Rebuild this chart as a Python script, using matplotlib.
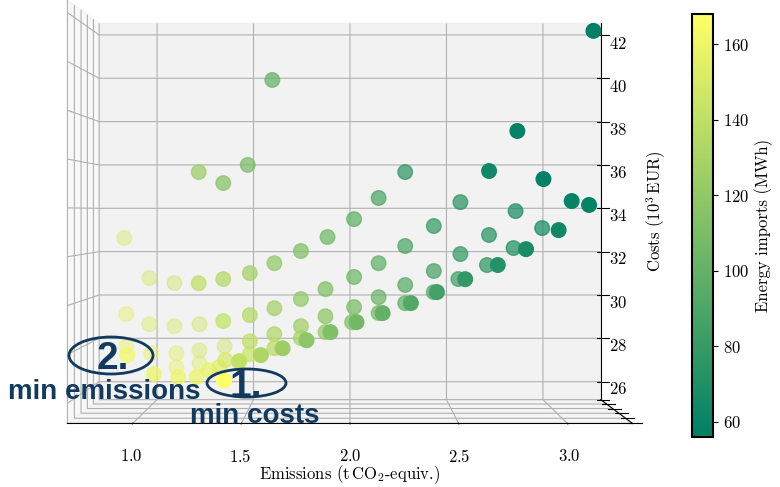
import matplotlib.pyplot as plt
import numpy as np
from matplotlib.cm import ScalarMappable
from matplotlib.colors import Normalize
from matplotlib.patches import Ellipse

plt.rcParams['font.family'] = 'serif'
plt.rcParams['font.serif'] = ['cmr10']
plt.rcParams['mathtext.fontset'] = 'cm'
plt.rcParams['axes.formatter.use_mathtext'] = True
plt.rcParams['font.size'] = 12

# Pareto solutions: emissions (t CO2-eq), costs (1e3 EUR), energy imports (MWh)
# and the position of each solution along the (unlabelled) depth axis
emissions = [3.12, 2.77, 2.64, 2.89, 3.02, 3.10, 2.96, 2.81, 2.68, 2.53,
             2.40, 2.28, 2.15, 2.03, 1.91, 1.80, 1.69, 1.59, 1.49, 1.42,
             2.27, 2.14, 2.54, 2.81, 2.02, 2.41, 2.68, 2.94, 1.89, 2.27,
             2.54, 2.80, 1.76, 2.14, 2.41, 2.67, 1.63, 2.02, 2.27, 2.53,
             1.51, 1.88, 2.14, 2.41, 1.38, 1.76, 2.02, 2.27, 1.26, 1.63,
             1.88, 2.14, 1.51, 1.76, 2.01, 1.38, 1.63, 1.88, 1.51, 1.76,
             1.63, 1.51, 1.39, 1.36, 1.31, 0.91, 1.04, 1.16, 1.25, 1.62,
             1.50, 1.26, 1.38,
             1.09, 0.96, 1.22, 1.09, 1.35, 0.96, 1.22, 0.84, 1.10, 0.97,
             1.22, 0.84, 1.10, 0.83]
costs = [41.25, 37.15, 35.51, 35.18, 34.28, 34.12, 33.09, 32.31, 31.66, 31.08,
         30.55, 30.10, 29.69, 29.32, 28.91, 28.58, 28.25, 27.97, 27.72, 26.94,
         35.57, 34.44, 34.26, 33.87, 33.52, 33.22, 32.83, 33.13, 32.74, 32.35,
         32.00, 32.26, 32.13, 31.60, 31.26, 31.52, 31.60, 31.00, 30.65, 30.91,
         31.17, 30.47, 30.12, 30.34, 30.91, 30.04, 29.69, 29.86, 30.73, 29.64,
         29.29, 29.43, 29.34, 28.86, 29.03, 29.08, 28.51, 28.60, 28.20, 28.34,
         27.90, 27.64, 27.38, 27.07, 26.94, 27.59, 26.77, 26.64, 26.64, 39.58,
         35.88, 35.57, 35.09,
         30.55, 30.78, 28.65, 28.56, 27.64, 28.65, 27.45, 29.12, 27.31, 27.31,
         26.85, 27.64, 26.67, 32.63]
imports = [56, 58, 64, 58, 59, 59, 63, 67, 72, 78,
           85, 92, 100, 106, 112, 118, 125, 132, 140, 168,
           76, 90, 75, 68, 98, 80, 74, 66, 105, 90,
           80, 71, 112, 98, 88, 77, 120, 105, 95, 84,
           128, 112, 103, 93, 135, 120, 110, 99, 140, 128,
           118, 107, 135, 126, 114, 142, 133, 122, 140, 130,
           138, 145, 150, 155, 158, 162, 160, 160, 160, 100,
           110, 125, 115,
           145, 148, 146, 150, 146, 152, 150, 155, 154, 156,
           154, 158, 157, 150]
depth = [0.0, 0.0, 0.0, 0.0, 0.0, 0.0, 0.0, 0.0, 0.0, 0.0,
         0.0, 0.0, 0.0, 0.0, 0.0, 0.0, 0.0, 0.0, 0.0, 0.0,
         0.5, 0.5, 0.5, 0.5, 0.5, 0.5, 0.5, 0.5, 0.5, 0.5,
         0.5, 0.5, 0.5, 0.5, 0.5, 0.5, 0.5, 0.5, 0.5, 0.5,
         0.5, 0.5, 0.5, 0.5, 0.5, 0.5, 0.5, 0.5, 0.5, 0.5,
         0.5, 0.5, 0.5, 0.5, 0.5, 0.5, 0.5, 0.5, 0.5, 0.5,
         0.5, 0.5, 0.5, 0.5, 0.5, 0.5, 0.5, 0.5, 0.5, 0.5,
         0.5, 0.5, 0.5,
         1.0, 1.0, 1.0, 1.0, 1.0, 1.0, 1.0, 1.0, 1.0, 1.0,
         1.0, 1.0, 1.0, 1.0]

x_ticks = [1.0, 1.5, 2.0, 2.5, 3.0]
z_ticks = [26, 28, 30, 32, 34, 36, 38, 40, 42]
cbar_ticks = [60, 80, 100, 120, 140, 160]

navy = '#123a5e'
cmap = plt.get_cmap('summer')

fig = plt.figure(figsize=(7.8, 4.87), dpi=100)
ax = fig.add_axes([-0.0951, -0.3053, 1.059, 1.696], projection='3d')
ax.view_init(elev=0, azim=-89.999)

# colour by imports, fade the markers that sit further back
norm = Normalize(min(imports), max(imports))
rgba = cmap(norm(np.array(imports)))
rgba[:, 3] = 1 - 0.55 * np.array(depth)
ax.scatter(emissions, depth, costs, c=rgba, s=110, depthshade=False)

ax.set_xlim(0.70, 3.30)
ax.set_ylim(0, 1)
ax.set_zlim(25.17, 42.53)
ax.set_xticks(x_ticks)
ax.set_zticks(z_ticks)
ax.set_yticklabels([])
ax.tick_params(axis='x', pad=9)
ax.set_xlabel(r'Emissions (t$\,$CO$_2$-equiv.)', labelpad=14)
ax.set_zlabel(r'Costs (10$^3\,$EUR)', labelpad=16)

cax = fig.add_axes([692 / 780, 50 / 487, 21 / 780, 423 / 487])
cb = fig.colorbar(ScalarMappable(norm=norm, cmap=cmap), cax=cax)
cb.set_ticks(cbar_ticks)
cb.set_label('Energy imports (MWh)')
cb.outline.set_linewidth(1.5)

# highlighted solutions
fig.add_artist(Ellipse((111 / 780, 1 - 355.5 / 487), 84 / 780, 37 / 487,
                       transform=fig.transFigure, fill=False,
                       edgecolor=navy, linewidth=2))
fig.add_artist(Ellipse((246.5 / 780, 1 - 383 / 487), 79 / 780, 28 / 487,
                       transform=fig.transFigure, fill=False,
                       edgecolor=navy, linewidth=2))
bold = dict(family='Liberation Sans', weight='bold', color=navy)
fig.text(97 / 780, 1 - 369 / 487, '2.', fontsize=28, **bold)
fig.text(229 / 780, 1 - 397 / 487, '1.', fontsize=28, **bold)
fig.text(8 / 780, 1 - 399 / 487, 'min emissions', fontsize=20, **bold)
fig.text(190 / 780, 1 - 423 / 487, 'min costs', fontsize=20, **bold)

fig.savefig('out.png', dpi=100)
